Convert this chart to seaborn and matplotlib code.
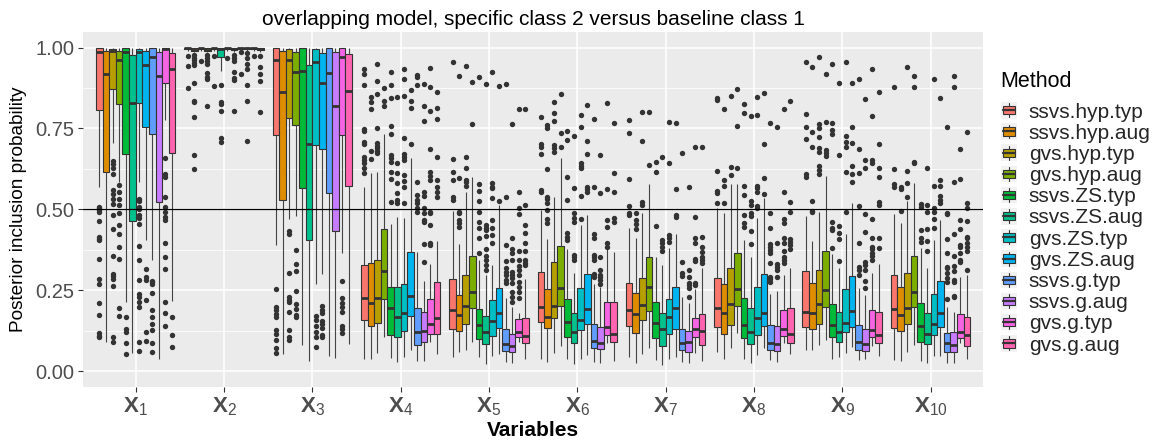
import numpy as np
import pandas as pd
import matplotlib
matplotlib.use("Agg")
import matplotlib.pyplot as plt
import seaborn as sns
from matplotlib.patches import Rectangle, Patch
from matplotlib.lines import Line2D
from matplotlib.legend_handler import HandlerBase
from matplotlib.ticker import FixedLocator

# ---------------- data ----------------
variables = [f"X{i}" for i in range(1, 11)]
var_labels = [rf"$\mathbf{{X}}_{{{i}}}$" for i in range(1, 11)]
methods = ["ssvs.hyp.typ", "ssvs.hyp.aug", "gvs.hyp.typ", "gvs.hyp.aug",
           "ssvs.ZS.typ", "ssvs.ZS.aug", "gvs.ZS.typ", "gvs.ZS.aug",
           "ssvs.g.typ", "ssvs.g.aug", "gvs.g.typ", "gvs.g.aug"]
colors = ["#F8766D", "#DE8C00", "#B79F00", "#7CAE00", "#00BA38", "#00C08B",
          "#00BFC4", "#00B4F0", "#619CFF", "#C77CFF", "#F564E3", "#FF64B0"]

# lower whisker end, per variable (rows) and method (columns)
LO = [
    [.569, .09, .705, .585, .213, .056, .585, .406, .342, .038, .775, .216],
    [.99, .985, .99, .985, .99, .928, .99, .985, .99, .985, .99, .985],
    [.39, .054, .471, .479, .082, .031, .27, .301, .048, .04, .365, .085],
    [.039, .039, .055, .106, .041, .029, .044, .065, .032, .032, .091, .053],
    [.044, .06, .065, .091, .044, .022, .046, .053, .029, .024, .091, .036],
    [.039, .029, .055, .077, .036, .022, .039, .049, .029, .024, .086, .032],
    [.044, .026, .053, .073, .034, .019, .036, .044, .029, .024, .057, .032],
    [.06, .036, .07, .119, .039, .024, .049, .073, .034, .029, .088, .053],
    [.065, .065, .08, .096, .039, .044, .057, .075, .034, .036, .077, .046],
    [.034, .032, .06, .08, .032, .024, .046, .046, .026, .026, .088, .036],
]
Q1 = [
    [.808, .615, .873, .825, .67, .463, .83, .753, .734, .523, .892, .675],
    [.996, .99, .996, .988, .996, .972, .996, .993, .996, .994, .996, .991],
    [.731, .528, .782, .762, .566, .406, .698, .686, .55, .432, .731, .571],
    [.158, .14, .15, .223, .111, .106, .124, .17, .082, .091, .116, .114],
    [.13, .124, .147, .196, .099, .084, .108, .132, .062, .06, .106, .086],
    [.151, .132, .163, .201, .106, .088, .127, .145, .07, .067, .111, .089],
    [.139, .119, .158, .186, .101, .077, .116, .129, .065, .06, .106, .08],
    [.135, .116, .142, .202, .101, .084, .111, .139, .065, .062, .109, .086],
    [.135, .129, .147, .199, .106, .091, .122, .137, .065, .063, .104, .086],
    [.132, .124, .145, .197, .091, .084, .111, .135, .06, .058, .103, .078],
]
MED = [
    [.985, .917, .99, .962, .985, .83, .985, .947, .971, .911, .994, .933],
    [.999, .993, .999, .992, .999, .995, .999, .997, .999, .998, .999, .996],
    [.961, .863, .961, .925, .928, .703, .954, .892, .92, .819, .971, .866],
    [.227, .212, .227, .31, .194, .168, .18, .232, .12, .125, .145, .165],
    [.189, .173, .201, .245, .144, .121, .156, .18, .084, .078, .12, .109],
    [.199, .168, .202, .256, .151, .12, .158, .191, .093, .086, .137, .116],
    [.189, .178, .204, .261, .149, .129, .168, .194, .088, .089, .129, .124],
    [.194, .18, .209, .253, .144, .12, .165, .18, .088, .084, .13, .116],
    [.184, .18, .206, .251, .144, .122, .149, .187, .091, .084, .127, .113],
    [.191, .173, .194, .245, .139, .116, .147, .18, .088, .082, .12, .113],
]
Q3 = [
    [1.0, .99, .997, .99, 1.0, .976, .997, .988, 1.0, .987, 1.0, .983],
    [1.0, .999, 1.0, .998, 1.0, .999, 1.0, 1.0, 1.0, 1.0, 1.0, .999],
    [1.0, .99, .997, .985, 1.0, .947, .997, .983, 1.0, .987, 1.0, .979],
    [.328, .333, .345, .439, .261, .261, .268, .367, .196, .184, .222, .274],
    [.284, .235, .297, .356, .191, .17, .22, .256, .13, .114, .16, .165],
    [.307, .253, .336, .388, .223, .181, .256, .299, .147, .137, .214, .214],
    [.271, .24, .287, .354, .214, .18, .222, .261, .129, .124, .165, .176],
    [.287, .269, .318, .364, .227, .196, .259, .299, .142, .14, .189, .196],
    [.31, .271, .314, .372, .209, .184, .253, .295, .142, .129, .189, .184],
    [.297, .259, .302, .357, .211, .18, .238, .279, .119, .12, .176, .168],
]
HI = [
    [1.0, 1.0, 1.0, 1.0, 1.0, 1.0, 1.0, 1.0, 1.0, 1.0, 1.0, 1.0],
    [1.0, 1.0, 1.0, 1.0, 1.0, 1.0, 1.0, 1.0, 1.0, 1.0, 1.0, 1.0],
    [1.0, 1.0, 1.0, 1.0, 1.0, 1.0, 1.0, 1.0, 1.0, 1.0, 1.0, 1.0],
    [.57, .611, .616, .733, .454, .475, .474, .66, .369, .279, .33, .402],
    [.495, .392, .555, .6, .343, .297, .328, .513, .225, .199, .18, .284],
    [.498, .407, .537, .658, .377, .302, .452, .482, .269, .261, .376, .367],
    [.443, .41, .49, .578, .352, .328, .38, .424, .23, .211, .253, .32],
    [.503, .49, .577, .577, .405, .354, .474, .534, .238, .248, .297, .318],
    [.479, .403, .491, .604, .361, .318, .424, .519, .256, .235, .302, .331],
    [.485, .459, .527, .58, .382, .318, .405, .467, .197, .184, .292, .297],
]
# outlying points, per variable, per method
OUT = [
    [  # X1
        [.507, .504, .497, .492, .464, .414, .409, .404, .347, .286, .27, .21, .172, .118, .11, .105],
        [],
        [.648, .641, .629, .61, .559, .548, .533, .515, .484, .438, .355, .299, .293, .286, .262, .105, .09],
        [.574, .553, .533, .514, .489, .451, .423, .384, .346, .195, .17],
        [.167, .131, .121, .088, .052],
        [],
        [.533, .526, .507, .5, .481, .473, .456, .386, .344, .282, .239, .229, .213, .198, .09, .062],
        [.316, .291, .282, .221, .121, .093],
        [.28, .275, .268, .241, .188, .167, .146, .126, .087, .059],
        [],
        [.66, .61, .6, .538, .507, .492, .476, .466, .397, .353, .316, .213, .179, .139],
        [.167, .112, .074],
    ],
    [  # X2
        [.975, .943, .874],
        [.977, .967, .96, .952, .947, .89, .835, .831, .784, .668, .625],
        [.959],
        [.977, .967, .957, .948, .921, .91, .902, .818],
        [.974, .881],
        [.885, .833, .826, .804, .722, .707],
        [.967],
        [.977, .967, .957, .926, .905, .9, .805],
        [.985, .918],
        [.982, .967, .95, .933, .885, .835, .711],
        [.975],
        [.974, .941, .918, .897, .802],
    ],
    [  # X3
        [.255, .198, .188, .177, .167, .126, .115, .095, .071, .056],
        [],
        [.432, .423, .304, .229, .221, .213, .184, .128, .105, .097],
        [.375, .33, .309, .249, .208, .193, .175, .167],
        [],
        [],
        [.17, .157, .141, .121, .105, .074],
        [.2, .19, .18, .155, .146, .132, .113, .107],
        [],
        [],
        [.28, .225, .21, .198, .183, .141, .131, .117],
        [],
    ],
    [  # X4
        [.611, .627, .642, .653, .663, .702, .709, .743, .747, .885, .918, .933],
        [.655, .68, .809, .833, .846],
        [.675, .681, .689, .696, .706, .751, .857, .898, .949],
        [.818, .835, .874],
        [.524, .593, .614, .647, .658, .668, .732, .759, .845, .885, .926],
        [.519, .529, .552, .58, .611, .642, .848],
        [.521, .57, .589, .606, .653, .663, .67, .72, .851, .902, .933],
        [.702, .814, .835, .869],
        [.491, .503, .519, .529, .544, .586, .885, .91, .915],
        [.338, .393, .462, .467, .488, .503, .542, .555, .774, .82, .887],
        [.39, .397, .452, .488, .493, .591, .603, .616, .686, .805, .879, .936],
        [.539, .555, .57, .591, .661, .778, .812, .862],
    ],
    [  # X5
        [.529, .537, .591, .614, .656, .954],
        [.444, .457, .467, .488, .493, .598, .913],
        [.573, .584, .591, .627, .661, .944],
        [.763, .893],
        [.364, .41, .441, .462, .493, .526, .557, .577, .908],
        [.314, .328, .343, .356, .376, .418, .436, .441, .452, .887],
        [.395, .421, .441, .467, .534, .565, .57, .58, .926],
        [.526, .882],
        [.271, .281, .297, .307, .318, .34, .39, .539, .887],
        [.214, .23, .245, .271, .287, .297, .307, .343, .364, .377, .412, .763],
        [.225, .245, .261, .276, .297, .312, .325, .345, .371, .485, .503, .553, .809],
        [.328, .335, .343, .371, .397, .426, .452, .513, .809],
    ],
    [  # X6
        [.555, .56, .67, .694, .702, .784],
        [.459, .469, .498, .521, .531, .539, .625, .751, .761],
        [.678, .689, .699, .773, .797, .831],
        [.692, .735, .856],
        [.405, .415, .426, .529, .601, .714, .743],
        [.343, .352, .359, .462, .472, .488, .567, .727],
        [.469, .541, .627, .634, .642, .754, .792],
        [.555, .563, .57, .671, .711, .821],
        [.292, .299, .343, .352, .359, .412, .424, .57, .779],
        [.269, .281, .29, .297, .312, .352, .549, .668],
        [.385, .395, .444, .467, .562, .828],
        [.462, .472, .555, .611, .768],
    ],
    [  # X7
        [.482, .49, .51, .593, .737, .776],
        [.438, .454, .467, .49],
        [.513, .524, .711, .8],
        [.636, .802],
        [.448, .616, .645],
        [.372, .385, .395, .405, .663],
        [.40, .41, .42, .642, .769],
        [.477, .482, .563, .768],
        [.294, .302, .338, .673],
        [.23, .256, .266, .271, .292, .314, .568],
        [.266, .273, .341, .348, .397, .41, .477, .692],
        [.335, .343, .354, .369, .385, .415, .692],
    ],
    [  # X8
        [.519, .549, .558, .619, .838, .843],
        [.521, .572, .591, .81],
        [.606, .632, .851],
        [.629, .758, .871],
        [.444, .459, .482, .544, .573, .797, .826],
        [.393, .434, .479, .49, .513, .527, .789],
        [.503, .51, .555, .565, .572, .792, .848],
        [.546, .596, .702, .859],
        [.276, .284, .292, .333, .364, .374, .385, .393, .443, .488, .768],
        [.29, .314, .323, .331, .397, .754],
        [.333, .343, .352, .372, .395, .41, .457, .469, .555, .809],
        [.379, .39, .4, .407, .493, .524, .836],
    ],
    [  # X9
        [.601, .608, .718, .754, .795, .955],
        [.491, .496, .527, .694, .74, .941],
        [.608, .622, .634, .678, .689, .725, .751, .764, .97],
        [.665, .673, .684, .771, .918],
        [.382, .436, .441, .462, .733, .745, .766, .948],
        [.34, .408, .426, .448, .668, .89],
        [.491, .616, .692, .709, .728, .955],
        [.586, .609, .635, .704, .756, .89],
        [.297, .312, .323, .395, .51, .611, .686, .902],
        [.256, .279, .312, .328, .338, .431, .485, .627, .653, .84],
        [.343, .356, .364, .379, .385, .41, .469, .644, .653, .789, .933],
        [.382, .412, .513, .524, .599, .629, .702, .864],
    ],
    [  # X10
        [.57, .578, .624, .879],
        [.495, .562, .57],
        [.539, .58, .619, .939],
        [.642, .647, .877, .913],
        [.4, .41, .436, .508, .516],
        [.371, .402, .438, .493, .513, .627],
        [.441, .469, .493, .503, .572, .902],
        [.519, .529, .541, .573, .591, .843],
        [.222, .276, .287, .302, .318, .323, .364, .407, .486, .49, .754],
        [.228, .232, .276, .281, .31, .326, .356, .423, .586, .877, .912],
        [.338, .343, .364, .385, .39, .438, .467, .593, .687],
        [.314, .372, .385, .395, .41, .415, .464, .503, .521, .738],
    ],
]

title = "overlapping model, specific class 2 versus baseline class 1"
xlabel = "Variables"
ylabel = "Posterior inclusion probability"
legend_title = "Method"

# ---------------- build tables ----------------
BOX_WIDTH = 0.9  # total dodge width of one variable group (ggplot default)
n_m = len(methods)
box_rows, out_rows = [], []
for vi, v in enumerate(variables):
    for mi, m in enumerate(methods):
        for val in (LO[vi][mi], Q1[vi][mi], MED[vi][mi], Q3[vi][mi], HI[vi][mi]):
            box_rows.append((v, m, val))
        # dodged position of this box inside its variable group
        xpos = vi + (mi + 0.5) * BOX_WIDTH / n_m - BOX_WIDTH / 2
        for val in OUT[vi][mi]:
            out_rows.append((xpos, m, val))
box_df = pd.DataFrame(box_rows, columns=["Variables", "Method", "prob"])
out_df = pd.DataFrame(out_rows, columns=["xpos", "Method", "prob"])

# ---------------- style ----------------
sns.set_theme(style="darkgrid")
plt.rcParams["font.family"] = ["Liberation Sans", "DejaVu Sans"]
plt.rcParams["mathtext.fontset"] = "custom"
plt.rcParams["mathtext.rm"] = "Liberation Sans"
plt.rcParams["mathtext.it"] = "Liberation Sans"
plt.rcParams["mathtext.bf"] = "Liberation Sans:bold"

W, H = 1160, 441
fig = plt.figure(figsize=(W / 100, H / 100), dpi=100)
ax = fig.add_axes([82.7 / W, 1 - 387 / H, (983.5 - 82.7) / W, (387 - 31.7) / H])
ax.set_facecolor("#EBEBEB")

dark = "#333333"
palette = dict(zip(methods, colors))
sns.boxplot(data=box_df, x="Variables", y="prob", hue="Method",
            order=variables, hue_order=methods, palette=palette,
            whis=(0, 100), width=BOX_WIDTH, gap=0, saturation=1,
            linecolor=dark, linewidth=0.8, fliersize=0, showcaps=False,
            whiskerprops=dict(color="#444444", linewidth=0.8),
            medianprops=dict(linewidth=2.0, color=dark),
            legend=False, ax=ax)
sns.scatterplot(data=out_df, x="xpos", y="prob", color=dark, s=15,
                linewidth=0, legend=False, ax=ax, zorder=3)
ax.axhline(0.5, color="black", lw=0.9, zorder=5)

# axes
ax.set_xlim(-0.6, len(variables) - 0.4)
ax.set_ylim(-0.049, 1.049)
ax.set_yticks([0, 0.25, 0.5, 0.75, 1.0])
ax.set_yticklabels(["0.00", "0.25", "0.50", "0.75", "1.00"])
ax.yaxis.set_minor_locator(FixedLocator([0.125, 0.375, 0.625, 0.875]))
ax.set_xticks(range(len(variables)))
ax.set_xticklabels(var_labels)
ax.grid(False)
ax.grid(which="major", axis="both", color="white", lw=1.1, zorder=0)
ax.grid(which="minor", axis="y", color="white", lw=0.55, zorder=0)
ax.set_axisbelow(True)
for s in ax.spines.values():
    s.set_visible(False)
ax.tick_params(which="major", length=3.5, width=0.8, color=dark, direction="out",
               pad=2.5)
ax.tick_params(which="minor", length=0)
ax.tick_params(axis="y", labelsize=14.5, labelcolor="#4D4D4D", left=True)
ax.tick_params(axis="x", labelsize=16, labelcolor="#4D4D4D", bottom=True)

ax.set_xlabel(xlabel, fontsize=15, fontweight="bold", color="black", labelpad=2)
ax.set_ylabel(ylabel, fontsize=13.7, color="black", labelpad=6)
ax.set_title(title, fontsize=15, color="black", pad=5)


# legend with boxplot keys
class BoxKeyHandler(HandlerBase):
    def create_artists(self, legend, orig_handle, xdescent, ydescent,
                       width, height, fontsize, trans):
        x0, y0 = -xdescent, -ydescent
        fc = orig_handle.get_facecolor()
        xm = x0 + 0.5 * width
        arts = [Rectangle((x0, y0), width, height, facecolor="#F2F2F2",
                          edgecolor="none", transform=trans)]
        arts.append(Line2D([xm, xm], [y0 + 0.08 * height, y0 + 0.25 * height],
                           color=dark, lw=0.8, transform=trans))
        arts.append(Line2D([xm, xm], [y0 + 0.75 * height, y0 + 0.92 * height],
                           color=dark, lw=0.8, transform=trans))
        arts.append(Rectangle((x0 + 0.12 * width, y0 + 0.25 * height),
                              0.76 * width, 0.5 * height, facecolor=fc,
                              edgecolor=dark, lw=0.8, transform=trans))
        arts.append(Line2D([x0 + 0.12 * width, x0 + 0.88 * width],
                           [y0 + 0.5 * height] * 2, color=dark, lw=1.6,
                           transform=trans))
        return arts


fig.text(1000 / W, 1 - 81.7 / H, legend_title, fontsize=15.5, color="black",
         ha="left", va="center")
handles = [Patch(facecolor=c, edgecolor=dark) for c in colors]
leg = fig.legend(handles, methods, loc="upper left",
                 bbox_to_anchor=(1001 / W, 1 - 102 / H), frameon=False,
                 fontsize=15, handlelength=0.78, handleheight=0.85,
                 labelspacing=0.08, handletextpad=0.55,
                 borderpad=0, borderaxespad=0,
                 handler_map={Patch: BoxKeyHandler()})

fig.savefig("out.png", dpi=100)
